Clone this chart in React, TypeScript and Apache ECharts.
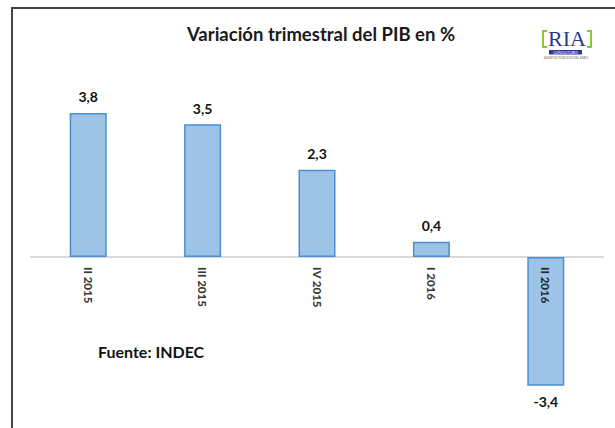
import React, { useEffect, useRef } from "react";
import * as echarts from "echarts";

const categories = ["II 2015", "III 2015", "IV 2015", "I 2016", "II 2016"];
const values = [3.8, 3.5, 2.3, 0.4, -3.4];
const titleText = "Variación trimestral del PIB en %";
const sourceText = "Fuente: INDEC";

export default function App() {
  const ref = useRef<HTMLDivElement>(null);
  useEffect(() => {
    if (!ref.current) return;
    const chart = echarts.init(ref.current, null, { renderer: "svg" });
    const font = "Lato, 'Open Sans', sans-serif";
    chart.setOption({
      animation: false,
      backgroundColor: "#ffffff",
      title: {
        text: titleText,
        left: 316,
        top: 19,
        textAlign: "center",
        textStyle: { fontFamily: font, fontSize: 18.5, fontWeight: "bold", color: "#1a1a1a" },
      },
      grid: { left: 31, right: 12, top: 105.4, bottom: 19.4, containLabel: false, outerBoundsMode: "none" },
      xAxis: {
        type: "category",
        data: categories,
        axisLine: { onZero: true, lineStyle: { color: "#d9d9d9", width: 2 } },
        axisTick: { show: false },
        axisLabel: { show: false },
      },
      yAxis: {
        type: "value",
        min: -4,
        max: 4,
        interval: 1,
        show: false,
        splitLine: { show: false },
      },
      series: [
        {
          type: "bar",
          barWidth: 37,
          data: values.map((v) => ({
            value: v,
            label: { position: v < 0 ? "bottom" : "top" },
          })),
          itemStyle: { color: "#9dc3e6", borderColor: "#4a8fd0", borderWidth: 1.5 },
          label: {
            show: true,
            distance: 9,
            fontFamily: font,
            fontSize: 14,
            fontWeight: "bold",
            color: "#111",
            formatter: (p: any) => String(p.value).replace(".", ","),
          },
        },
        {
          type: "scatter",
          symbolSize: 0,
          silent: true,
          z: 10,
          data: categories.map((c) => [c, 0]),
          label: {
            show: true,
            position: "bottom",
            distance: 10,
            rotate: -90,
            align: "left",
            verticalAlign: "middle",
            fontFamily: font,
            fontSize: 11.5,
            fontWeight: 900,
            color: "#000",
            formatter: (p: any) => p.data[0],
          },
        },
      ],
      graphic: [
        {
          type: "rect",
          shape: { x: 12, y: 8, width: 640, height: 440 },
          style: { fill: "none", stroke: "#444", lineWidth: 2 },
          silent: true,
        },
        {
          type: "text",
          left: 98,
          top: 343,
          style: { text: sourceText, fontFamily: font, fontSize: 16, fontWeight: "bold", fill: "#111" },
        },
        {
          type: "polyline",
          shape: { points: [[547, 31], [543, 31], [543, 47], [547, 47]] },
          style: { stroke: "#8cc63f", lineWidth: 2, fill: "none" },
        },
        {
          type: "polyline",
          shape: { points: [[587, 31], [591, 31], [591, 47], [587, 47]] },
          style: { stroke: "#8cc63f", lineWidth: 2, fill: "none" },
        },
        {
          type: "text",
          x: 567,
          y: 38.5,
          style: {
            text: "RIA",
            fontFamily: "'Liberation Serif', serif",
            fontSize: 22,
            lineHeight: 16,
            fill: "#2b3990",
            align: "center",
            verticalAlign: "middle",
          },
        },
        {
          type: "rect",
          shape: { x: 549, y: 50, width: 33, height: 4.5 },
          style: { fill: "#2b3990" },
        },
        {
          type: "text",
          x: 565.5,
          y: 52.5,
          style: { text: "CONSULTORES", fontFamily: font, fontSize: 3.5, lineHeight: 3.5, fill: "#fff", align: "center", verticalAlign: "middle" },
        },
        {
          type: "text",
          x: 566,
          y: 58,
          style: { text: "ASUNTOS PÚBLICOS DEL AGRO", fontFamily: font, fontSize: 3, lineHeight: 3, fill: "#666", align: "center", verticalAlign: "middle" },
        },
      ],
    });
    return () => chart.dispose();
  }, []);
  return (
    <div
      ref={ref}
      style={{ position: "absolute", left: 0, top: 0, width: 615, height: 428 }}
    />
  );
}
